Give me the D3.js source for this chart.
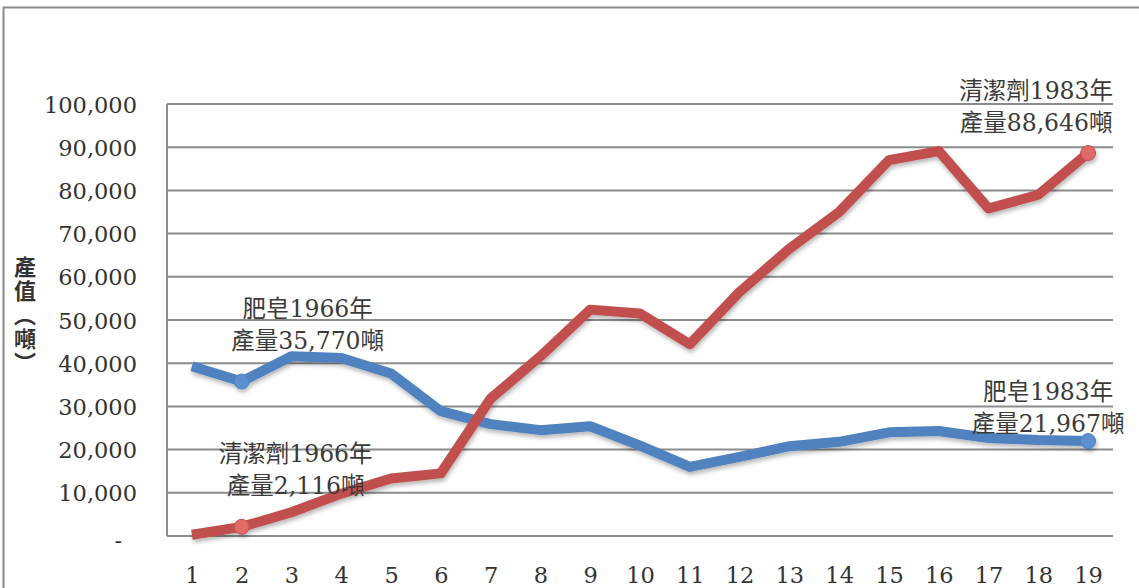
<!DOCTYPE html>
<html>
<head>
<meta charset="utf-8">
<script src="https://cdn.jsdelivr.net/npm/d3@7"></script>
<style>
  html, body { margin: 0; padding: 0; background: #fff; }
  svg { display: block; }
</style>
</head>
<body>
<svg id="chart" width="1139" height="588"></svg>
<script>
// Categories, numbered 1..19 along the axis
const categories = d3.range(1, 20).map(String);

// Annual output (tons)
const soapValues = [39300, 35770, 41600, 41200, 37600, 28900, 25900, 24500, 25400,
                    20900, 16000, 18300, 20800, 21800, 24000, 24300, 22700, 22200, 21967];
const detergentValues = [300, 2116, 5500, 9800, 13300, 14500, 31800, 41600, 52400,
                         51500, 44400, 56500, 66500, 75000, 87000, 89100, 75800, 79000, 88646];

const yTicks = [0, 10000, 20000, 30000, 40000, 50000, 60000, 70000, 80000, 90000, 100000];

// Callout annotations: series, category index, text lines, offset from the point
const annotations = [
  { series: "soap", index: 1, lines: ["肥皂1966年", "產量35,770噸"], dx: 66, dy: -64 },
  { series: "detergent", index: 1, lines: ["清潔劑1966年", "產量2,116噸"], dx: 54, dy: -65 },
  { series: "detergent", index: 18, lines: ["清潔劑1983年", "產量88,646噸"], dx: -52, dy: -54 },
  { series: "soap", index: 18, lines: ["肥皂1983年", "產量21,967噸"], dx: -40, dy: -41 }
];

const svg = d3.select("#chart");
const margin = { left: 167, right: 26, top: 104, bottom: 52 };
const W = 1139, H = 588;

const x = d3.scalePoint().domain(categories)
  .range([margin.left, W - margin.right]).padding(0.5);
const y = d3.scaleLinear().domain([0, 100000]).range([H - margin.bottom, margin.top]);

const defs = svg.append("defs");
const shadow = defs.append("filter").attr("id", "shadow")
  .attr("x", "-10%").attr("y", "-10%").attr("width", "120%").attr("height", "130%");
shadow.append("feDropShadow").attr("dx", 1).attr("dy", 3)
  .attr("stdDeviation", 2).attr("flood-color", "#000").attr("flood-opacity", 0.28);

// outer frame
svg.append("path").attr("d", `M3.5,${H} L3.5,7.5 L${W},7.5`)
  .attr("fill", "none").attr("stroke", "#8a8a8a").attr("stroke-width", 2);

// gridlines
const gridColor = "#8c8c8c";
svg.append("g").selectAll("line").data(yTicks).join("line")
  .attr("x1", margin.left).attr("x2", W - margin.right)
  .attr("y1", d => y(d)).attr("y2", d => y(d))
  .attr("stroke", gridColor).attr("stroke-width", 2);
svg.append("line")
  .attr("x1", margin.left).attr("x2", margin.left)
  .attr("y1", y(100000)).attr("y2", y(0))
  .attr("stroke", gridColor).attr("stroke-width", 2);

// y axis labels
const yAxis = d3.axisLeft(y).tickValues(yTicks).tickSize(0).tickPadding(30)
  .tickFormat(d => d === 0 ? "-" : d3.format(",")(d));
const yg = svg.append("g").attr("transform", `translate(${margin.left},0)`).call(yAxis);
yg.select(".domain").remove();
yg.selectAll("text")
  .attr("font-family", "'DejaVu Serif', serif").attr("font-size", 22.5)
  .attr("fill", "#333").attr("dy", "0.36em");
yg.selectAll("text").filter(d => d === 0).attr("dx", -15).attr("dy", "0.5em");

// x axis labels
const xAxis = d3.axisBottom(x).tickSize(0).tickPadding(31);
const xg = svg.append("g").attr("transform", `translate(0,${y(0)})`).call(xAxis);
xg.select(".domain").remove();
xg.selectAll("text")
  .attr("font-family", "'DejaVu Serif', serif").attr("font-size", 22.5)
  .attr("fill", "#333");

// y axis title, written vertically
svg.append("text")
  .attr("x", 25).attr("y", 256)
  .attr("font-family", "'Noto Sans CJK TC', sans-serif").attr("font-weight", 700)
  .attr("font-size", 22).attr("fill", "#333")
  .style("writing-mode", "vertical-rl")
  .attr("letter-spacing", 2)
  .text("產值（噸）");

// series lines
const seriesDefs = [
  { key: "soap", values: soapValues, color: "#4f82bf", marker: "#5b90d0" },
  { key: "detergent", values: detergentValues, color: "#c0504d", marker: "#e06a66" }
];
const line = d3.line().x((d, i) => x(categories[i])).y(d => y(d));

const plot = svg.append("g").attr("filter", "url(#shadow)");
plot.selectAll("path").data(seriesDefs).join("path")
  .attr("d", d => line(d.values))
  .attr("fill", "none").attr("stroke", d => d.color)
  .attr("stroke-width", 10).attr("stroke-linejoin", "round");

// markers at annotated points
const byKey = Object.fromEntries(seriesDefs.map(s => [s.key, s]));
plot.selectAll("circle").data(annotations).join("circle")
  .attr("cx", d => x(categories[d.index]))
  .attr("cy", d => y(byKey[d.series].values[d.index]))
  .attr("r", 7.5)
  .attr("fill", d => byKey[d.series].marker)
  .attr("stroke", d => byKey[d.series].color).attr("stroke-width", 1);

// annotation text
const ann = svg.append("g");
annotations.forEach(a => {
  const px = x(categories[a.index]);
  const py = y(byKey[a.series].values[a.index]);
  const t = ann.append("text")
    .attr("x", px + a.dx).attr("y", py + a.dy)
    .attr("text-anchor", "middle")
    .attr("font-family", "'DejaVu Serif', 'Noto Sans CJK TC', serif")
    .attr("font-size", 23.5).attr("fill", "#3a3a3a");
  a.lines.forEach((l, i) => {
    t.append("tspan").attr("x", px + a.dx).attr("dy", i === 0 ? 0 : 32).text(l);
  });
});
</script>
</body>
</html>
